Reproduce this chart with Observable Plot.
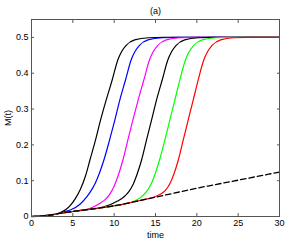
<!DOCTYPE html>
<html><head><meta charset="utf-8">
<script src="https://cdn.jsdelivr.net/npm/d3@7"></script>
<script src="https://cdn.jsdelivr.net/npm/@observablehq/plot@0.6"></script>
<style>body{margin:0;background:#fff}</style>
</head><body><div id="chart"></div>
<script>
const seriesNames = ["s1", "s2", "s3", "s4", "s5", "s6"];
const seriesColors = ["#000000", "#0000ff", "#ff00ff", "#000000", "#00ff00", "#ff0000"];

const s1T = [0, 1, 2, 3, 3.5, 4.2, 4.7, 5.3, 5.93, 6.53, 7.06, 7.74, 8.35, 9.03, 9.76, 10.44, 10.89, 11.45, 12.48, 14.2, 16, 30];
const s1M = [0, 0.001, 0.003, 0.007, 0.011, 0.02, 0.031, 0.05, 0.077, 0.113, 0.157, 0.213, 0.269, 0.325, 0.381, 0.437, 0.46, 0.478, 0.493, 0.499, 0.5, 0.5];

const s2T = [0, 1, 2, 3, 3.5, 4.7, 5.9, 6.73, 7.34, 7.74, 8.2, 8.75, 9.44, 10.08, 10.68, 11.37, 12.05, 12.5, 13.06, 14.09, 15.8, 17.5, 30];
const s2M = [0, 0.001, 0.003, 0.007, 0.011, 0.018, 0.035, 0.056, 0.077, 0.094, 0.12, 0.157, 0.213, 0.269, 0.325, 0.381, 0.437, 0.46, 0.478, 0.493, 0.499, 0.5, 0.5];

const s3T = [0, 1, 2, 3, 4, 5, 6, 7.1, 8.3, 9.0, 9.5, 10.0, 10.5, 11.05, 11.65, 12.26, 12.9, 13.59, 14.27, 14.72, 15.28, 16.31, 18.0, 19.6, 30];
const s3M = [0, 0.001, 0.003, 0.007, 0.011, 0.014, 0.017, 0.023, 0.037, 0.049, 0.063, 0.085, 0.115, 0.157, 0.213, 0.269, 0.325, 0.381, 0.437, 0.46, 0.478, 0.493, 0.499, 0.5, 0.5];

const s4T = [0, 1, 2, 3, 4, 5, 6, 7, 8, 9.4, 10.4, 11.2, 11.8, 12.3, 12.8, 13.31, 13.91, 14.52, 15.12, 15.81, 16.49, 16.94, 17.5, 18.53, 20.2, 21.8, 30];
const s4M = [0, 0.001, 0.003, 0.007, 0.011, 0.014, 0.017, 0.02, 0.023, 0.032, 0.043, 0.055, 0.07, 0.09, 0.12, 0.157, 0.213, 0.269, 0.325, 0.381, 0.437, 0.46, 0.478, 0.493, 0.499, 0.5, 0.5];

const s5T = [0, 1, 2, 3, 4, 5, 6, 7, 8, 9, 10, 11, 12.0, 12.7, 13.4, 14.0, 14.5, 15.0, 15.48, 16.13, 16.73, 17.34, 17.94, 18.62, 19.07, 19.63, 20.66, 22.3, 24, 30];
const s5M = [0, 0.001, 0.003, 0.007, 0.011, 0.014, 0.017, 0.02, 0.023, 0.026, 0.03, 0.034, 0.039, 0.046, 0.057, 0.072, 0.092, 0.122, 0.157, 0.213, 0.269, 0.325, 0.381, 0.437, 0.46, 0.478, 0.493, 0.499, 0.5, 0.5];

const s6T = [0, 1, 2, 3, 4, 5, 6, 7, 8, 9, 10, 11, 12, 13, 14.0, 15.0, 15.6, 16.2, 16.75, 17.25, 17.75, 18.35, 18.95, 19.56, 20.16, 20.84, 21.29, 21.85, 22.88, 24.5, 26, 30];
const s6M = [0, 0.001, 0.003, 0.007, 0.011, 0.014, 0.017, 0.02, 0.023, 0.026, 0.03, 0.034, 0.039, 0.044, 0.049, 0.056, 0.062, 0.073, 0.092, 0.12, 0.157, 0.213, 0.269, 0.325, 0.381, 0.437, 0.46, 0.478, 0.493, 0.499, 0.5, 0.5];

const baseT = [0, 1, 2, 3, 4, 5, 6, 7, 8, 9, 10, 11, 12, 13, 14, 16, 18, 20, 22, 24, 26, 28, 30];
const baseM = [0, 0.001, 0.003, 0.007, 0.011, 0.014, 0.017, 0.02, 0.023, 0.026, 0.03, 0.034, 0.039, 0.044, 0.049, 0.059, 0.069, 0.079, 0.088, 0.097, 0.106, 0.115, 0.124];

const xTicks = [0, 5, 10, 15, 20, 25, 30];
const xTickLabels = ["0", "5", "10", "15", "20", "25", "30"];
const yTicks = [0, 0.1, 0.2, 0.3, 0.4, 0.5];
const yTickLabels = ["0", "0.1", "0.2", "0.3", "0.4", "0.5"];
const titleText = "(a)";
const xLabel = "time";
const yLabel = "M(t)";

const seriesT = [s1T, s2T, s3T, s4T, s5T, s6T];
const seriesM = [s1M, s2M, s3M, s4M, s5M, s6M];
const rows = [];
seriesNames.forEach((name, i) => {
  seriesT[i].forEach((t, j) => rows.push({series: name, t, m: seriesM[i][j]}));
});
const baseRows = baseT.map((t, j) => ({t, m: baseM[j]}));

const axisStroke = "#555";
const chart = Plot.plot({
  width: 287, height: 241,
  marginLeft: 31, marginRight: 8, marginTop: 19, marginBottom: 25,
  style: {fontFamily: "'Liberation Sans', Arial, sans-serif", fontSize: "9px", background: "#fff", color: "#000"},
  x: {domain: [0, 30]},
  y: {domain: [0, 0.55]},
  color: {domain: seriesNames, range: seriesColors},
  marks: [
    Plot.line(rows, {x: "t", y: "m", z: "series", stroke: "series", curve: "monotone-x", strokeWidth: 1.2}),
    Plot.line(baseRows, {x: "t", y: "m", stroke: "#000", strokeDasharray: "5.5,3", strokeWidth: 1.3, curve: "monotone-x"}),
    Plot.frame({stroke: axisStroke}),
    Plot.axisX({ticks: xTicks, tickSize: 0, tickPadding: 3, tickFormat: (d, i) => xTickLabels[xTicks.indexOf(d)], label: xLabel, labelAnchor: "center", labelArrow: "none", labelOffset: 21}),
    Plot.axisX({ticks: xTicks, anchor: "bottom", tickSize: -3, tickFormat: () => "", label: null, stroke: axisStroke}),
    Plot.axisX({ticks: xTicks, anchor: "top", tickSize: -3, tickFormat: () => "", label: null, stroke: axisStroke}),
    Plot.axisY({ticks: yTicks, tickSize: 0, tickPadding: 3, tickFormat: (d) => yTickLabels[yTicks.indexOf(d)], label: yLabel, labelAnchor: "center", labelArrow: "none", labelOffset: 27}),
    Plot.axisY({ticks: yTicks, anchor: "left", tickSize: -3, tickFormat: () => "", label: null, stroke: axisStroke}),
    Plot.axisY({ticks: yTicks, anchor: "right", tickSize: -3, tickFormat: () => "", label: null, stroke: axisStroke}),
    Plot.text([titleText], {frameAnchor: "top", lineAnchor: "bottom", dy: -6, fontSize: 9})
  ]
});
document.getElementById("chart").appendChild(chart);
</script>
</body></html>
